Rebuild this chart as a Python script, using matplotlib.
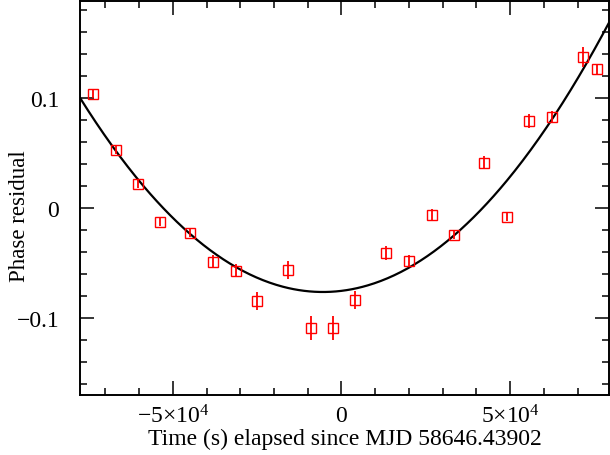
import numpy as np
import matplotlib
matplotlib.use("Agg")
import matplotlib.pyplot as plt
from matplotlib.ticker import MultipleLocator, FixedLocator

#------Data------
time_s = [-73700, -66900, -60400, -53800, -45000, -38200, -31400, -24900,
          -15700, -8900, -2400, 4100, 13300, 20100, 26900, 33400,
          42300, 49100, 55600, 62400, 71600, 75700]
phase_res = [0.1036, 0.0527, 0.0218, -0.0127, -0.0227, -0.049, -0.057, -0.0845,
             -0.0564, -0.109, -0.109, -0.0836, -0.041, -0.048, -0.0064, -0.0245,
             0.041, -0.008, 0.079, 0.083, 0.137, 0.126]
phase_err = [0.004, 0.004, 0.004, 0.004, 0.004, 0.006, 0.006, 0.008,
             0.008, 0.011, 0.011, 0.008, 0.006, 0.005, 0.005, 0.004,
             0.006, 0.004, 0.006, 0.005, 0.009, 0.005]

# quadratic model: a*(t - t0)^2 + c
fit_a = 3.403e-11
fit_t0 = -5500.0
fit_c = -0.0764

x_ticks = [-50000, 0, 50000]
x_ticklabels = ["\u22125\u00d710$^{4}$", "0", "5\u00d710$^{4}$"]
y_ticks = [-0.1, 0, 0.1]
y_ticklabels = ["\u22120.1", "0", "0.1"]

#------Style------
plt.rcParams['font.family'] = ['Liberation Serif', 'DejaVu Serif']
plt.rcParams['mathtext.fontset'] = 'custom'
plt.rcParams['mathtext.rm'] = 'Liberation Serif'
plt.rcParams['mathtext.it'] = 'Liberation Serif:italic'

fig = plt.figure(figsize=(6.1, 4.56), dpi=100)
ax = fig.add_axes([80/610, 60/456, 529/610, 394/456])

xlo, xhi = -77500, 79300
ax.set_xlim(xlo, xhi)
ax.set_ylim(-0.17, 0.188)

#------Model curve------
tt = np.linspace(xlo, xhi, 400)
ax.plot(tt, fit_a * (tt - fit_t0) ** 2 + fit_c, color="black", lw=1.6, zorder=2)

#------Data points------
ax.errorbar(time_s, phase_res, yerr=phase_err, fmt='s', mfc='none', mec='red',
            ecolor='red', ms=7.5, mew=1.0, elinewidth=1.3, capsize=0, zorder=3)

#------Axes------
ax.xaxis.set_major_locator(FixedLocator(x_ticks))
ax.set_xticklabels(x_ticklabels)
ax.xaxis.set_minor_locator(MultipleLocator(10000))
ax.yaxis.set_major_locator(FixedLocator(y_ticks))
ax.set_yticklabels(y_ticklabels)
ax.yaxis.set_minor_locator(MultipleLocator(0.02))

ax.tick_params(which='both', direction='in', top=True, right=True, labelsize=17, width=1.1)
ax.tick_params(which='major', length=10)
ax.tick_params(axis='x', which='major', pad=7)
ax.tick_params(axis='y', which='major', pad=15)
ax.tick_params(which='minor', length=5)
for s in ax.spines.values():
    s.set_linewidth(1.4)

ax.set_xlabel("Time (s) elapsed since MJD 58646.43902", fontsize=17, labelpad=0)
ax.set_ylabel("Phase residual", fontsize=16.5)
ax.yaxis.set_label_coords(-0.095, 0.457)

fig.savefig("out.png", dpi=100)
